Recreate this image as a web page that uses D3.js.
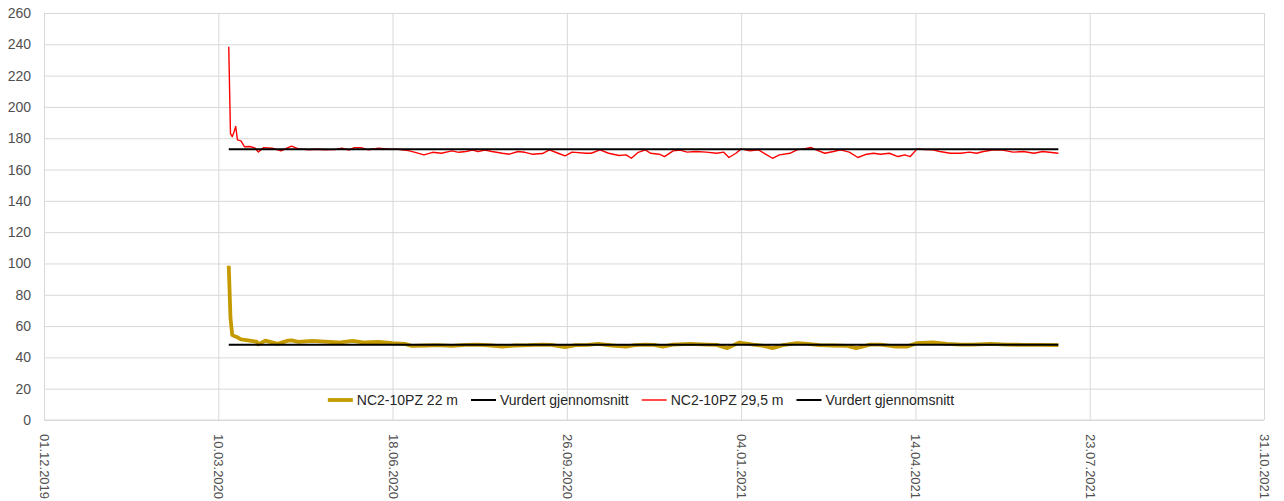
<!DOCTYPE html>
<html>
<head>
<meta charset="utf-8">
<script src="https://cdn.jsdelivr.net/npm/d3@7/dist/d3.min.js"></script>
<style>
  html, body { margin: 0; padding: 0; background: #fff; }
  svg { display: block; font-family: "Liberation Sans", Arial, sans-serif; }
</style>
</head>
<body>
<svg id="chart" width="1284" height="501"></svg>
<script>
// Piezometer readings, days counted from 01.12.2019
const originDate = "2019-12-01";

// NC2-10PZ 29,5 m
const redDays = [106, 107, 108, 109, 110, 111, 113, 115, 118, 121, 123, 126, 131, 134, 136, 142, 146, 152, 157, 161, 167, 171, 175, 178, 182, 186, 192, 198, 203, 209, 213, 218, 223, 228, 234, 238, 242, 246, 249, 253, 257, 263, 267, 272, 276, 280, 286, 290, 295, 299, 303, 311, 314, 319, 324, 330, 334, 337, 341, 345, 348, 353, 356, 361, 365, 369, 374, 380, 386, 390, 393, 397, 400, 405, 410, 414, 418, 422, 428, 432, 436, 440, 443, 448, 453, 457, 462, 467, 472, 476, 480, 485, 490, 494, 497, 501, 505, 510, 514, 520, 526, 531, 535, 539, 545, 550, 556, 562, 568, 573, 582];
const redValues = [238.5, 183, 181, 184, 187.5, 179, 178.3, 174.6, 174.7, 173.8, 171.2, 174, 173.6, 172.6, 172, 175, 173.2, 172.6, 173, 172.6, 172.8, 173.6, 172.4, 174, 174, 172.6, 173.6, 173, 173, 172.1, 171, 169.4, 171, 170.4, 171.9, 171, 171.5, 172.4, 171.5, 172.4, 171.5, 170.4, 169.8, 171.5, 171, 169.8, 170.2, 172.6, 170.4, 168.7, 171.1, 170.4, 170.4, 172.6, 170.4, 169, 169.4, 167.2, 171, 172.6, 170.4, 169.8, 168.3, 171.9, 172.4, 171.1, 171.5, 171.1, 170.4, 171.1, 167.7, 170.4, 173.2, 171.9, 172.6, 169.8, 167.2, 169.4, 170.4, 172.6, 173.2, 174.1, 172.6, 170.4, 171.5, 172.6, 171.1, 167.7, 169.8, 170.4, 169.8, 170.4, 168.3, 169.4, 168.3, 173.2, 172.8, 172.6, 171.5, 170.4, 170.4, 171.1, 170.4, 171.5, 172.6, 172.4, 171.1, 171.5, 170.4, 171.5, 170.4];

// NC2-10PZ 22 m
const goldDays = [106, 107, 108, 109, 111, 113, 118, 122, 123, 127, 134, 140, 142, 146, 154, 161, 169, 177, 184, 192, 200, 207, 211, 219, 226, 234, 242, 249, 257, 263, 270, 278, 286, 291, 299, 305, 312, 318, 326, 334, 339, 345, 350, 355, 361, 371, 380, 386, 392, 399, 407, 413, 418, 424, 432, 438, 445, 453, 461, 466, 474, 480, 489, 495, 501, 510, 518, 526, 533, 543, 552, 562, 571, 582];
const goldValues = [98.5, 65, 54.3, 53.7, 52.8, 51.5, 50.7, 50, 48.3, 50.7, 48.6, 50.7, 50.8, 49.9, 50.6, 50.1, 49.5, 50.6, 49.5, 49.9, 49.1, 48.6, 47.4, 47.6, 47.8, 47.4, 48, 48.2, 47.6, 46.9, 47.6, 47.8, 48.2, 48, 46.5, 47.8, 48, 48.6, 47.6, 46.9, 47.8, 48.2, 48, 46.9, 48.2, 48.6, 48.2, 48, 45.9, 49.5, 48.2, 47.4, 45.9, 47.8, 49.1, 48.6, 47.8, 47.6, 47.4, 45.9, 48.2, 48.2, 46.9, 46.9, 49.1, 49.5, 48.6, 48.2, 48.2, 48.6, 48.2, 48, 48, 47.8];

// Assessed averages ("Vurdert gjennomsnitt") over the measuring period
const averageDays = [106, 582];
const goldAverage = 48;
const redAverage = 173;

// Axes
const yTicks = [0, 20, 40, 60, 80, 100, 120, 140, 160, 180, 200, 220, 240, 260];
const xTickLabels = ["01.12.2019", "10.03.2020", "18.06.2020", "26.09.2020", "04.01.2021", "14.04.2021", "23.07.2021", "31.10.2021"];

const seriesNames = ["NC2-10PZ 22 m", "Vurdert gjennomsnitt", "NC2-10PZ 29,5 m", "Vurdert gjennomsnitt"];

const svg = d3.select("#chart");
const plot = { left: 44, right: 1264, top: 13, bottom: 420 };
const fontStack = "'Liberation Sans', Arial, sans-serif";

const parseDMY = d3.timeParse("%d.%m.%Y");
const origin = d3.timeParse("%Y-%m-%d")(originDate);
const dayToDate = d => new Date(origin.getTime() + d * 86400000);

const x = d3.scaleTime()
  .domain([parseDMY(xTickLabels[0]), parseDMY(xTickLabels[xTickLabels.length - 1])])
  .range([plot.left, plot.right]);
const y = d3.scaleLinear().domain([0, 260]).range([plot.bottom, plot.top]);

const gridColor = "#d9d9d9";
const textColor = "#505050";

// Horizontal gridlines and y labels
const yAxis = d3.axisLeft(y).tickValues(yTicks).tickSize(-(plot.right - plot.left)).tickPadding(13);
const gy = svg.append("g").attr("transform", `translate(${plot.left},0)`).call(yAxis);
gy.select(".domain").remove();
gy.selectAll(".tick line").attr("stroke", gridColor).attr("stroke-width", 1);
gy.selectAll(".tick text").attr("fill", textColor).attr("font-size", 14)
  .attr("font-family", fontStack);

// Vertical gridlines and rotated date labels
const xTickDates = xTickLabels.map(parseDMY);
const xAxis = d3.axisBottom(x).tickValues(xTickDates).tickSize(-(plot.bottom - plot.top))
  .tickFormat(d3.timeFormat("%d.%m.%Y"));
const gx = svg.append("g").attr("transform", `translate(0,${plot.bottom})`).call(xAxis);
gx.select(".domain").remove();
gx.selectAll(".tick line").attr("stroke", gridColor).attr("stroke-width", 1);
gx.selectAll(".tick text")
  .attr("fill", textColor).attr("font-size", 13)
  .attr("font-family", fontStack)
  .attr("transform", "rotate(90)")
  .attr("x", 14).attr("y", 0).attr("dy", "0.35em")
  .attr("text-anchor", "start");

// Bottom edge of the plot area
svg.append("line").attr("x1", plot.left).attr("x2", plot.right).attr("y1", plot.bottom).attr("y2", plot.bottom)
  .attr("stroke", gridColor).attr("stroke-width", 1);

const line = d3.line().x(d => x(dayToDate(d[0]))).y(d => y(d[1]));

const goldData = goldDays.map((d, i) => [d, goldValues[i]]);
const redData = redDays.map((d, i) => [d, redValues[i]]);

svg.append("path").datum(goldData).attr("d", line)
  .attr("fill", "none").attr("stroke", "#c49a00").attr("stroke-width", 3.8)
  .attr("stroke-linejoin", "round");
svg.append("path").datum(averageDays.map(d => [d, goldAverage])).attr("d", line)
  .attr("fill", "none").attr("stroke", "#000").attr("stroke-width", 2);

svg.append("path").datum(redData).attr("d", line)
  .attr("fill", "none").attr("stroke", "#ff0000").attr("stroke-width", 1.4)
  .attr("stroke-linejoin", "round");
svg.append("path").datum(averageDays.map(d => [d, redAverage])).attr("d", line)
  .attr("fill", "none").attr("stroke", "#000").attr("stroke-width", 2);

// Legend
const legendStyles = [
  { color: "#c49a00", width: 3.8 },
  { color: "#000", width: 2 },
  { color: "#ff0000", width: 1.4 },
  { color: "#000", width: 2 }
];
const legendY = 400;
const legend = svg.append("g");
const items = seriesNames.map((name, i) => {
  const g = legend.append("g");
  g.append("line").attr("x1", 0).attr("x2", 25).attr("y1", 0).attr("y2", 0)
    .attr("stroke", legendStyles[i].color).attr("stroke-width", legendStyles[i].width);
  const t = g.append("text").attr("x", 29).attr("y", 0).attr("dy", "0.35em")
    .attr("font-size", 14).attr("font-family", fontStack).attr("fill", "#262626").text(name);
  return { g, w: 29 + t.node().getComputedTextLength() };
});
const gap = 13;
const total = d3.sum(items, d => d.w) + gap * (items.length - 1);
let cx = 641 - total / 2;
items.forEach(it => {
  it.g.attr("transform", `translate(${cx},${legendY})`);
  cx += it.w + gap;
});
</script>
</body>
</html>
